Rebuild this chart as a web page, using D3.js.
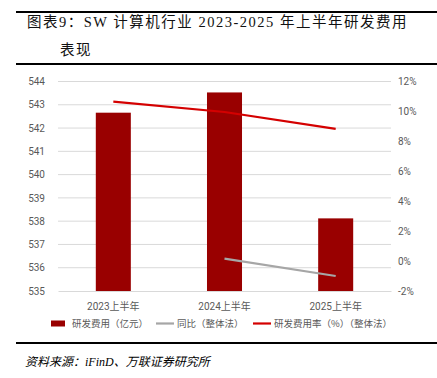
<!DOCTYPE html>
<html>
<head>
<meta charset="utf-8">
<script src="https://cdn.jsdelivr.net/npm/d3@7/dist/d3.min.js"></script>
<style>
  body { margin: 0; background: #fff; }
  svg { display: block; }
</style>
</head>
<body>
<div id="chart"></div>
<script>
const categories = ['2023上半年', '2024上半年', '2025上半年']
const rdExpense = [542.66, 543.53, 538.12]
const yoy = [null, 0.16, -1.0]
const rdRate = [10.65, 9.96, 8.83]
const leftTicks = [535, 536, 537, 538, 539, 540, 541, 542, 543, 544]
const rightTicks = [-2, 0, 2, 4, 6, 8, 10, 12]

const W = 437, H = 378
const margin = { top: 81.5, bottom: 291, left: 58, right: 391 }
const cjk = '"Liberation Serif", "Noto Sans CJK SC", serif'
const axisFont = 'Roboto, "Noto Sans CJK SC", sans-serif'

let svg = d3.select('#chart').append('svg').attr('width', W).attr('height', H)

// title block
svg.append('line').attr('x1', 16).attr('x2', W).attr('y1', 12).attr('y2', 12)
  .attr('stroke', '#000').attr('stroke-width', 2)
svg.append('text').attr('x', 27).attr('y', 27).style('font-family', cjk)
  .style('font-size', '14.5px').style('letter-spacing', '1.5px')
  .attr('fill', '#111').text('图表9：SW  计算机行业  2023-2025  年上半年研发费用')
svg.append('text').attr('x', 60).attr('y', 55).style('font-family', cjk)
  .style('font-size', '14.5px').style('letter-spacing', '1.5px')
  .attr('fill', '#111').text('表现')
svg.append('line').attr('x1', 16).attr('x2', W).attr('y1', 64).attr('y2', 64)
  .attr('stroke', '#000').attr('stroke-width', 2)

let x = d3.scaleBand().domain(categories).range([margin.left, margin.right]).paddingInner(0.685).paddingOuter(0.34)
let yL = d3.scaleLinear().domain([535, 544]).range([margin.bottom, margin.top])
let yR = d3.scaleLinear().domain([-2, 12]).range([margin.bottom, margin.top])

// gridlines
svg.append('g').selectAll('line').data(leftTicks.slice(1)).enter().append('line')
  .attr('x1', margin.left).attr('x2', margin.right)
  .attr('y1', d => yL(d)).attr('y2', d => yL(d))
  .attr('stroke', '#d9d9d9').attr('stroke-width', 1)

// left axis labels
let leftAxis = svg.append('g').attr('transform', 'translate(45,0)')
  .call(d3.axisLeft(yL).tickValues(leftTicks).tickSize(0).tickPadding(0))
leftAxis.select('.domain').remove()
leftAxis.selectAll('text').style('font-family', axisFont).style('font-size', '10px').attr('fill', '#595959')

// right axis labels
let rightAxis = svg.append('g').attr('transform', 'translate(398,0)')
  .call(d3.axisRight(yR).tickValues(rightTicks).tickSize(0).tickPadding(0).tickFormat(d => d + '%'))
rightAxis.select('.domain').remove()
rightAxis.selectAll('text').style('font-family', axisFont).style('font-size', '10px').attr('fill', '#595959')

// bars
svg.append('g').selectAll('rect').data(rdExpense).enter().append('rect')
  .attr('x', (d, i) => x(categories[i]))
  .attr('width', x.bandwidth())
  .attr('y', d => yL(d))
  .attr('height', d => yL(535) - yL(d))
  .attr('fill', '#990000')

// bottom axis
let bottomAxis = svg.append('g').attr('transform', 'translate(0,' + margin.bottom + ')')
  .call(d3.axisBottom(x).tickSize(0).tickPadding(12))
bottomAxis.select('.domain').attr('stroke', '#d9d9d9')
bottomAxis.selectAll('text').style('font-family', axisFont).style('font-size', '10px').attr('fill', '#595959')

let cx = i => x(categories[i]) + x.bandwidth() / 2

// yoy line
let yoyPts = yoy.map((v, i) => [i, v]).filter(p => p[1] !== null)
svg.append('path').datum(yoyPts)
  .attr('d', d3.line().x(p => cx(p[0])).y(p => yR(p[1])))
  .attr('fill', 'none').attr('stroke', '#a6a6a6').attr('stroke-width', 2.2)

// rate line
svg.append('path').datum(rdRate)
  .attr('d', d3.line().x((d, i) => cx(i)).y(d => yR(d)))
  .attr('fill', 'none').attr('stroke', '#d40000').attr('stroke-width', 2.2)

// legend
let legend = svg.append('g').style('font-family', '"Noto Sans CJK SC", sans-serif')
  .style('font-size', '9.5px').attr('fill', '#595959')
legend.append('rect').attr('x', 51).attr('y', 320.5).attr('width', 14).attr('height', 6).attr('fill', '#990000')
legend.append('text').attr('x', 72).attr('y', 327).text('研发费用（亿元）')
legend.append('line').attr('x1', 156).attr('x2', 174).attr('y1', 323.5).attr('y2', 323.5)
  .attr('stroke', '#a6a6a6').attr('stroke-width', 2.2)
legend.append('text').attr('x', 177).attr('y', 327).text('同比（整体法）')
legend.append('line').attr('x1', 253).attr('x2', 271).attr('y1', 323.5).attr('y2', 323.5)
  .attr('stroke', '#d40000').attr('stroke-width', 2.2)
legend.append('text').attr('x', 274).attr('y', 327).text('研发费用率（%）（整体法）')

// footer
svg.append('line').attr('x1', 16).attr('x2', W).attr('y1', 343).attr('y2', 343)
  .attr('stroke', '#000').attr('stroke-width', 2)
svg.append('text').attr('x', 25).attr('y', 366).style('font-family', cjk)
  .style('font-size', '12px').style('font-style', 'italic').text('资料来源：iFinD、万联证券研究所')
</script>
</body>
</html>
